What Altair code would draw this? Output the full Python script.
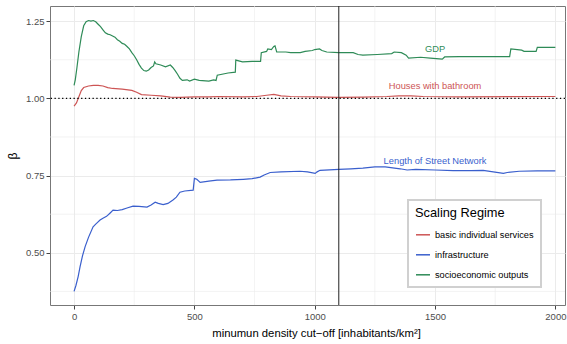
import altair as alt
import pandas as pd

regimes = ["basic individual services", "infrastructure", "socioeconomic outputs"]
colors = ["#CD5555", "#3A5FCD", "#2E8B57"]

green_x = [0, 5, 12, 20, 30, 40, 50, 60, 70, 80, 90, 100, 110, 120, 130, 140, 150, 160, 170, 180,
           190, 200, 210, 220, 230, 240, 250, 260, 270, 280, 290, 300, 310, 320, 330, 335, 340, 360,
           380, 400, 410, 420, 430, 440, 450, 470, 480, 500, 520, 560, 580, 590, 595, 640, 670, 672,
           700, 740, 775, 778, 800, 805, 820, 830, 835, 842, 880, 900, 940, 960, 990, 1000, 1020,
           1030, 1050, 1100, 1160, 1180, 1200, 1260, 1320, 1330, 1360, 1380, 1390, 1440, 1480, 1530,
           1540, 1600, 1810, 1815, 1860, 1870, 1920, 1925, 2000]
green_y = [1.042, 1.06, 1.10, 1.15, 1.20, 1.235, 1.248, 1.252, 1.25, 1.252, 1.248, 1.24, 1.232, 1.222,
           1.212, 1.208, 1.206, 1.202, 1.198, 1.19, 1.185, 1.178, 1.175, 1.168, 1.16, 1.148, 1.138,
           1.125, 1.11, 1.098, 1.09, 1.088, 1.092, 1.10, 1.105, 1.118, 1.112, 1.108, 1.102, 1.108, 1.10,
           1.09, 1.078, 1.065, 1.058, 1.06, 1.056, 1.062, 1.058, 1.056, 1.06, 1.058, 1.075, 1.082,
           1.085, 1.124, 1.118, 1.12, 1.12, 1.148, 1.152, 1.16, 1.158, 1.168, 1.17, 1.15, 1.15, 1.148,
           1.148, 1.152, 1.155, 1.158, 1.16, 1.155, 1.15, 1.148, 1.148, 1.142, 1.14, 1.142, 1.145,
           1.15, 1.148, 1.14, 1.13, 1.133, 1.13, 1.127, 1.134, 1.135, 1.135, 1.16, 1.156, 1.152,
           1.152, 1.165, 1.165]

red_x = [0, 10, 20, 30, 40, 60, 80, 100, 120, 140, 160, 200, 240, 260, 280, 320, 360, 400, 440, 500,
         560, 600, 700, 760, 800, 830, 860, 900, 1000, 1100, 1200, 1300, 1350, 1400, 1450, 1600, 2000]
red_y = [0.975, 0.985, 1.005, 1.025, 1.035, 1.04, 1.042, 1.042, 1.04, 1.035, 1.032, 1.03, 1.026, 1.02,
         1.012, 1.01, 1.008, 1.004, 1.003, 1.005, 1.005, 1.006, 1.005, 1.006, 1.01, 1.013, 1.008,
         1.006, 1.005, 1.003, 1.004, 1.006, 1.008, 1.008, 1.006, 1.005, 1.006]

blue_x = [0, 8, 17, 25, 35, 46, 60, 79, 90, 108, 120, 135, 150, 162, 180, 200, 220, 245, 270, 303,
          320, 337, 350, 370, 390, 411, 425, 440, 460, 495, 500, 510, 524, 560, 594, 650, 703, 740,
          773, 790, 815, 860, 939, 970, 1002, 1010, 1022, 1100, 1150, 1200, 1250, 1293, 1355, 1384,
          1420, 1500, 1575, 1650, 1700, 1784, 1800, 1850, 1924, 2000]
blue_y = [0.375, 0.395, 0.423, 0.455, 0.49, 0.52, 0.55, 0.584, 0.593, 0.606, 0.612, 0.618, 0.629,
          0.638, 0.637, 0.64, 0.645, 0.651, 0.65, 0.648, 0.655, 0.664, 0.66, 0.656, 0.66, 0.671, 0.68,
          0.696, 0.70, 0.703, 0.741, 0.738, 0.728, 0.732, 0.735, 0.736, 0.738, 0.74, 0.745, 0.752,
          0.76, 0.762, 0.764, 0.762, 0.757, 0.762, 0.767, 0.77, 0.772, 0.774, 0.778, 0.778, 0.772,
          0.768, 0.77, 0.768, 0.766, 0.766, 0.767, 0.757, 0.76, 0.764, 0.765, 0.765]

label_text = ["GDP", "Houses with bathroom", "Length of Street Network"]
label_regime = ["socioeconomic outputs", "basic individual services", "infrastructure"]
label_x = [1500, 1500, 1500]
label_y = [1.161, 1.039, 0.798]

x_major = [0, 500, 1000, 1500, 2000]
x_minor = [250, 750, 1250, 1750]
y_major = [0.50, 0.75, 1.00, 1.25]
y_minor = [0.375, 0.625, 0.875, 1.125]
cutoff_x = [1100]
ref_y = [1.0]

rows = []
for name, xs, ys in [(regimes[0], red_x, red_y), (regimes[1], blue_x, blue_y), (regimes[2], green_x, green_y)]:
    for i, (a, b) in enumerate(zip(xs, ys)):
        rows.append({"regime": name, "x": a, "beta": b, "order": i})
df = pd.DataFrame(rows)
labels_df = pd.DataFrame({"text": label_text, "regime": label_regime, "x": label_x, "beta": label_y})

FONT = "Liberation Sans"
xscale = alt.Scale(domain=[-100, 2040], nice=False, zero=False)
yscale = alt.Scale(domain=[0.331, 1.299], nice=False, zero=False)

x_axis = alt.Axis(values=x_major, title="minumun density cut\u2212off [inhabitants/km\u00b2]",
                  format="d", grid=True, titleX=266, titleAlign="center")
y_axis = alt.Axis(values=y_major, title="\u03b2", format=".2f", grid=True)

xgrid = alt.Chart(pd.DataFrame({"x": x_minor})).mark_rule(color="#EBEBEB", strokeWidth=0.6).encode(
    x=alt.X("x:Q", scale=xscale, axis=x_axis))
ygrid = alt.Chart(pd.DataFrame({"beta": y_minor})).mark_rule(color="#EBEBEB", strokeWidth=0.6).encode(
    y=alt.Y("beta:Q", scale=yscale, axis=y_axis))

lines = alt.Chart(df).mark_line(strokeWidth=1.2, clip=True).encode(
    x=alt.X("x:Q", scale=xscale, axis=x_axis),
    y=alt.Y("beta:Q", scale=yscale, axis=y_axis),
    color=alt.Color("regime:N", scale=alt.Scale(domain=regimes, range=colors),
                    legend=alt.Legend(title="Scaling Regime", orient="none", legendX=358, legendY=194,
                                      symbolType="stroke", symbolSize=196, symbolStrokeWidth=1.5,
                                      fillColor="white", strokeColor="#D0D0D0", padding=7,
                                      rowPadding=6, titlePadding=7, labelOffset=4)),
    order="order:Q",
)

vline = alt.Chart(pd.DataFrame({"x": cutoff_x})).mark_rule(color="#222222", strokeWidth=1).encode(
    x=alt.X("x:Q", scale=xscale, axis=x_axis))
hline = alt.Chart(pd.DataFrame({"beta": ref_y})).mark_rule(color="black", strokeWidth=1.3,
                                                           strokeDash=[1.3, 2.5]).encode(
    y=alt.Y("beta:Q", scale=yscale, axis=y_axis))

texts = alt.Chart(labels_df).mark_text(font=FONT, fontSize=9.3).encode(
    x=alt.X("x:Q", scale=xscale, axis=x_axis),
    y=alt.Y("beta:Q", scale=yscale, axis=y_axis),
    text="text:N",
    color=alt.Color("regime:N", scale=alt.Scale(domain=regimes, range=colors), legend=None),
)

chart = alt.layer(xgrid, ygrid, lines, hline, vline, texts).properties(
    width=515, height=299,
    autosize=alt.AutoSizeParams(type="none"),
    padding={"left": 50, "top": 6, "right": 2, "bottom": 39},
).configure_view(stroke="#777777", strokeWidth=1).configure_axis(
    domain=False, gridColor="#EBEBEB", gridWidth=1, tickColor="#444444", tickSize=4,
    labelColor="#4D4D4D", labelFont=FONT, labelFontSize=9.5, labelPadding=2,
    titleFont=FONT, titleFontSize=11.3, titleFontWeight="normal", titleColor="black",
).configure_axisY(titlePadding=6, titleFontSize=12).configure_axisX(titlePadding=7).configure_legend(
    titleFont=FONT, titleFontSize=12.8, titleFontWeight="normal", titleColor="black",
    labelFont=FONT, labelFontSize=9.2, labelColor="black", strokeWidth=2,
)

chart.save("out.html", embed_options={"renderer": "svg", "actions": False})
